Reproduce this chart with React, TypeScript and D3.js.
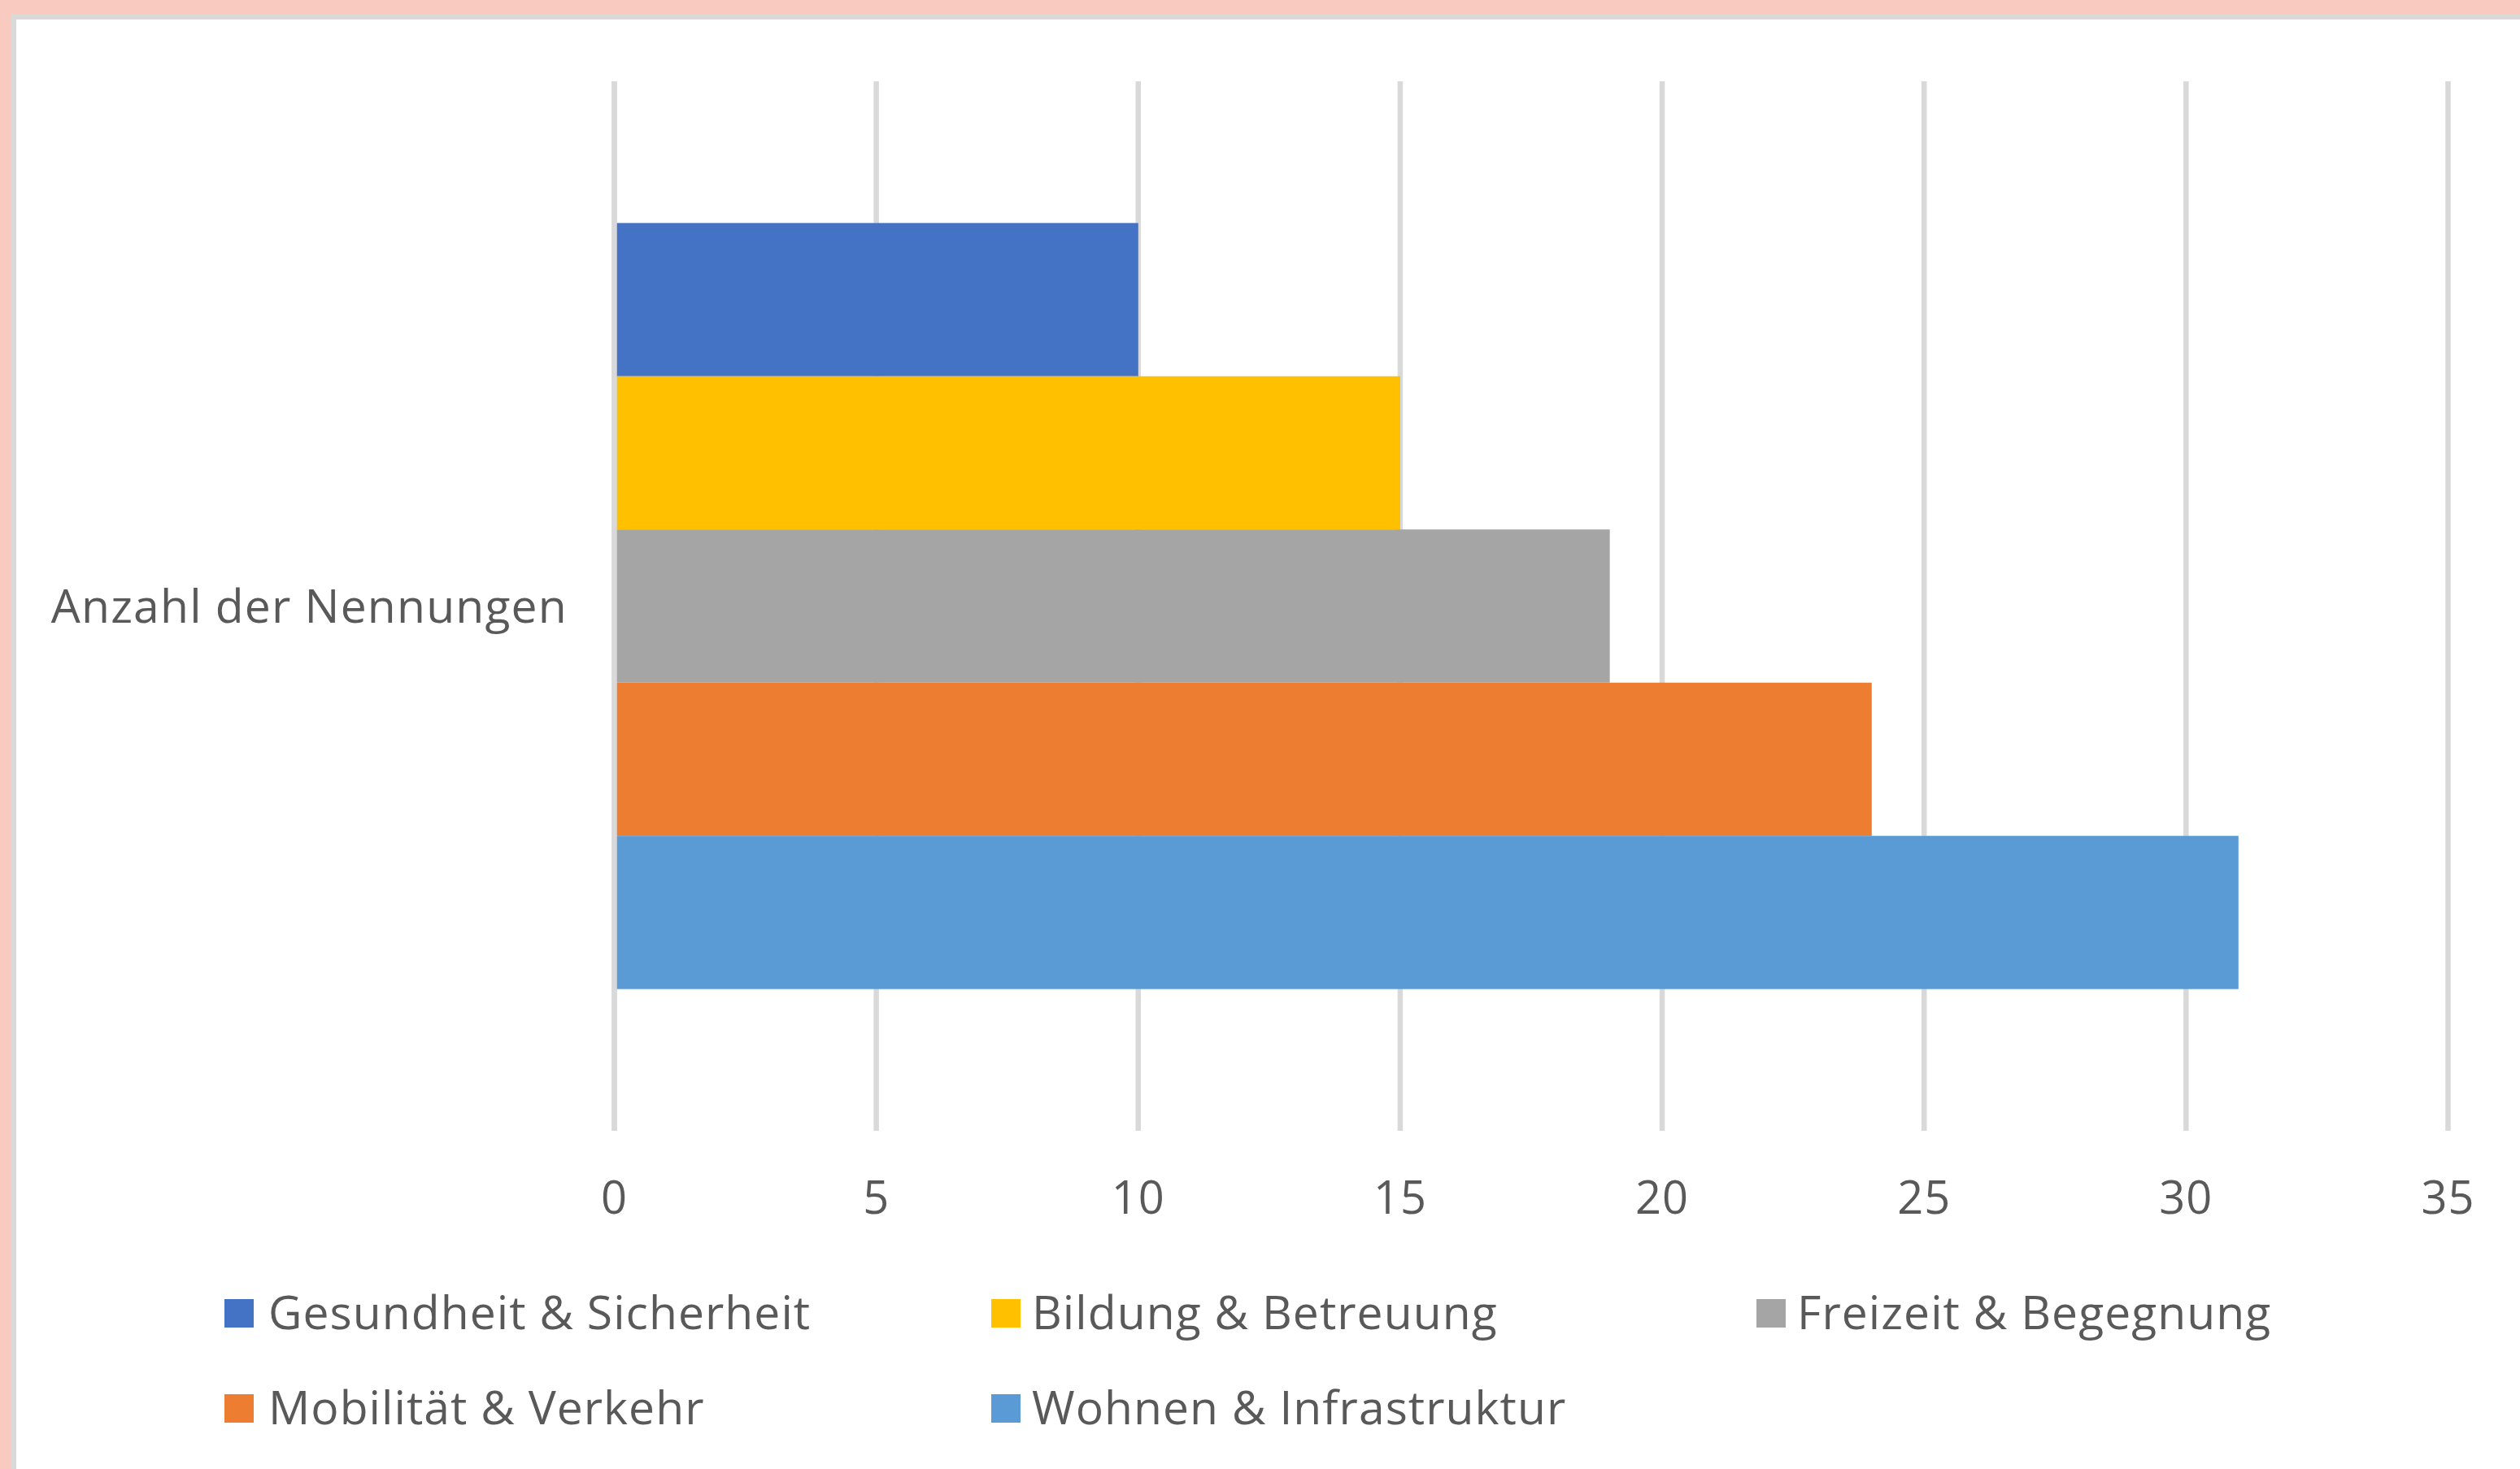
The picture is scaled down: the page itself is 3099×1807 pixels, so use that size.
import React, { useEffect } from "react";
import * as d3 from "d3";

const categories = ["Anzahl der Nennungen"];
const seriesNames = [
  "Gesundheit & Sicherheit",
  "Bildung & Betreuung",
  "Freizeit & Begegnung",
  "Mobilität & Verkehr",
  "Wohnen & Infrastruktur",
];
const seriesValues = [10, 15, 19, 24, 31];
const seriesColors = ["#4472C4", "#FFC000", "#A5A5A5", "#ED7D31", "#5B9BD5"];
const xTicks = [0, 5, 10, 15, 20, 25, 30, 35];

const W = 3099;
const H = 1807;
const FONT = "'Open Sans', sans-serif";
const TEXT = "#595959";

export default function App() {
  useEffect(() => {
    document.body.style.margin = "0";
  }, []);

  const plotTop = 100;
  const plotBottom = 1391;
  const x = d3.scaleLinear().domain([0, 35]).range([755.5, 3010.5]);
  const gap = 1.85;
  const barH = (plotBottom - plotTop) / (seriesNames.length + gap);
  const bandTop = plotTop + (gap / 2) * barH;
  const y = d3
    .scaleBand<string>()
    .domain(seriesNames)
    .range([bandTop, bandTop + barH * seriesNames.length])
    .padding(0);

  const legendCols = [276, 1219, 2160];
  const legendRows = [1598, 1715];

  const grid = (t: number, k: string) => (
    <line
      key={k + t}
      x1={x(t)}
      x2={x(t)}
      y1={plotTop}
      y2={plotBottom}
      stroke="#D9D9D9"
      strokeWidth={6.5}
    />
  );

  return (
    <svg width={W} height={H} style={{ display: "block" }} fontFamily={FONT}>
      <rect x={0} y={0} width={W} height={H} fill="#F9CBC0" />
      <rect x={13} y={17} width={W - 13} height={H - 17} fill="#D9D9D9" />
      <rect x={20} y={24} width={W - 20} height={H - 24} fill="#FFFFFF" />

      {xTicks.map((t) => grid(t, "g"))}

      {seriesNames.map((s, i) => (
        <rect
          key={s}
          x={x(0)}
          y={y(s)}
          width={x(seriesValues[i]) - x(0)}
          height={y.bandwidth()}
          fill={seriesColors[i]}
        />
      ))}

      {grid(0, "axis")}

      {xTicks.map((t) => (
        <text
          key={"t" + t}
          x={x(t)}
          y={1493}
          textAnchor="middle"
          fontSize={56}
          letterSpacing={1}
          fill={TEXT}
        >
          {t}
        </text>
      ))}

      <text
        x={698}
        y={(plotTop + plotBottom) / 2 + 20}
        textAnchor="end"
        fontSize={57}
        letterSpacing={1.2}
        fill={TEXT}
      >
        {categories[0]}
      </text>

      {seriesNames.map((s, i) => {
        const col = i % 3;
        const row = Math.floor(i / 3);
        const lx = legendCols[col];
        const ly = legendRows[row];
        return (
          <g key={"l" + s}>
            <rect x={lx} y={ly} width={36} height={35} fill={seriesColors[i]} />
            <text
              x={lx + (col === 0 ? 54 : 50)}
              y={ly + 37}
              fontSize={57}
              letterSpacing={1.05}
              fill={TEXT}
            >
              {s}
            </text>
          </g>
        );
      })}
    </svg>
  );
}
